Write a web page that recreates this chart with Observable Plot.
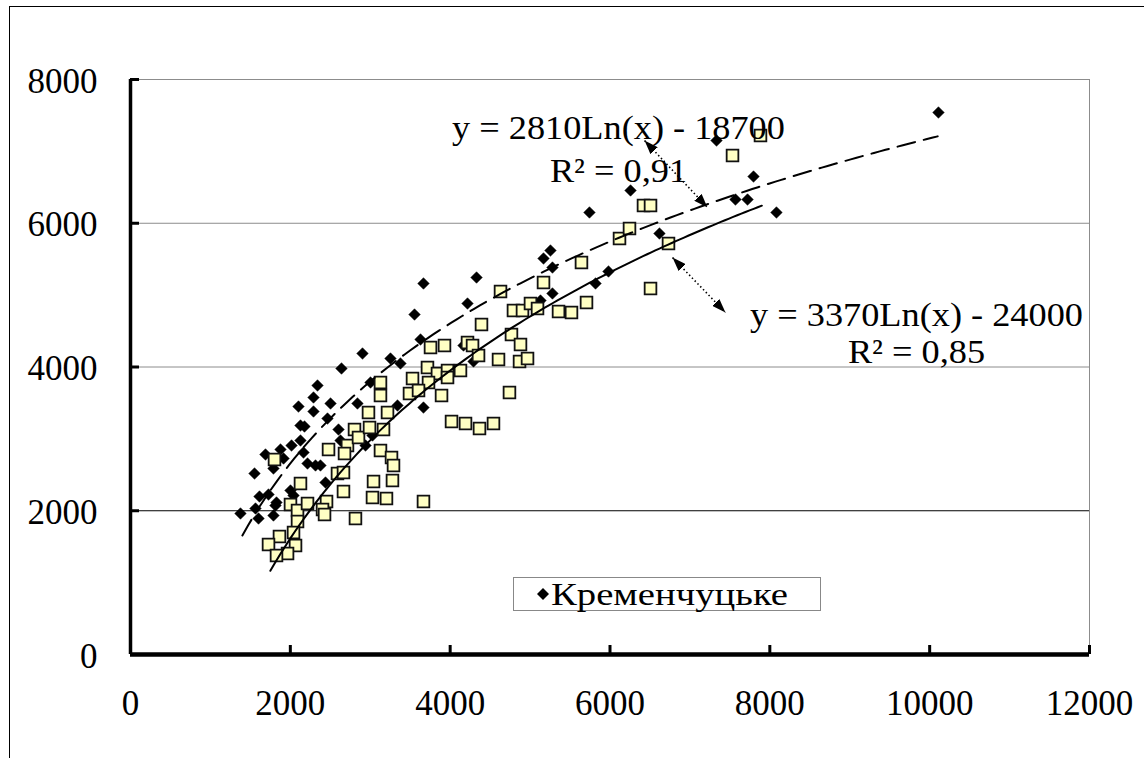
<!DOCTYPE html>
<html><head><meta charset="utf-8">
<script src="https://cdn.jsdelivr.net/npm/d3@7"></script>
<script src="https://cdn.jsdelivr.net/npm/@observablehq/plot@0.6"></script>
<style>
body{margin:0;background:#fff;}
#wrap{position:relative;width:1144px;height:758px;overflow:hidden;background:#fff;}
#frame{position:absolute;left:9px;top:6px;width:1300px;height:900px;border-left:1.5px solid #000;border-top:1.5px solid #000;pointer-events:none;}
#legend{position:absolute;left:513px;top:577px;width:306px;height:32px;border:1px solid #888;background:#fff;
  font-family:"Liberation Serif","DejaVu Serif",serif;font-size:32px;line-height:32px;color:#000;box-sizing:content-box;}
#legend svg{position:absolute;left:22px;top:9px;}
#legend span{position:absolute;left:37px;top:0px;white-space:nowrap;display:inline-block;transform-origin:0 50%;transform:scaleX(1.21);}
</style></head>
<body>
<div id="wrap"><div id="chart"></div><div id="frame"></div>
<div id="legend"><svg width="14" height="14"><path d="M7,1L13,7L7,13L1,7Z" fill="#000"/></svg><span>Кременчуцьке</span></div>
</div>
<script>
// ---- data ----
const seriesName = "Кременчуцьке";
const diamondX = [1376,1564,1602,1789,1614,1727,1814,1827,1552,1689,1877,2015,2127,2165,1789,1915,2215,2315,2377,2002,2040,2440,2127,2177,2628,2603,2941,3028,2290,2340,2465,2503,2102,2290,2640,2903,3253,3378,2840,3341,3003,3666,3629,3554,3666,4217,4330,4167,4292,5255,5168,5280,5130,5280,5819,5981,5743,6257,6619,7333,7796,7570,7721,8083,10110];
const diamondY = [1962,2031,1892,1934,2198,2226,2073,2115,2518,2783,2852,2908,2977,2810,2588,2727,2657,2630,2630,2282,2212,2393,3186,3172,2977,3130,2908,3047,3576,3743,3283,3492,3450,3381,3979,4188,4118,4049,3492,3464,3784,3436,4383,4730,5162,4883,5245,4299,4077,5621,5510,5384,4925,5023,5162,5329,6150,6456,5857,7151,6650,6330,6330,6150,7541];
const squareX = [1802,2127,2002,2090,2215,2453,2403,2428,2815,2090,2040,1864,1727,2065,1965,1827,2665,2590,2665,2478,2715,2678,2803,2853,2991,3166,3128,3266,3291,3041,3278,3028,3203,3666,2978,3216,3128,3128,3529,3491,3716,3841,3967,3967,4129,3892,3729,3604,4605,4868,4968,4742,4017,4192,4367,4542,3754,3929,4217,4280,4355,6119,5643,5168,4630,4392,4792,4905,5005,5093,5356,5518,5706,4767,4880,7883,7533,6419,6507,6244,6732,6507];
const squareY = [2713,2379,2087,2003,2101,2129,2017,1948,1892,1850,1697,1642,1530,1517,1405,1377,2268,2518,2532,2852,2908,2797,3130,3019,3158,3130,2838,2741,2630,2407,2421,2184,2170,2129,3367,3367,3784,3603,3840,3631,3993,3910,3951,3854,3951,3603,3784,3673,4104,4077,4118,3645,3242,3214,3144,3214,4271,4299,4341,4299,4160,5788,5454,5176,5051,4591,4786,4786,4883,4814,4772,4758,4897,4452,4313,7221,6943,6247,6247,5927,5718,5092];
// trendlines (as printed on the chart): y = a*ln(x) + b
const trendA = [2810, 3370];
const trendB = [-18700, -24000];
const trendFrom = [1400, 1750];
const trendTo = [10100, 7900];
const eqLines = ["y = 2810Ln(x) - 18700", "R² = 0,91", "y = 3370Ln(x) - 24000", "R² = 0,85"];
const eqX = [6106, 6106, 9835, 9835];
const eqY = [7318, 6720, 4717, 4202];
// dotted double arrows
const arrowX1 = [6432, 6782], arrowY1 = [7151, 5523];
const arrowX2 = [7220, 7445], arrowY2 = [6219, 4758];
const xTicks = [0, 2000, 4000, 6000, 8000, 10000, 12000];
const yTicks = [0, 2000, 4000, 6000, 8000];
const gridGray = [4000, 6000, 8000];
const gridDark = [2000];

// ---- build tables ----
const diamonds = diamondX.map((x, i) => ({x, y: diamondY[i]}));
const squares = squareX.map((x, i) => ({x, y: squareY[i]}));
function trendPts(k) {
  const pts = [];
  const n = 120;
  for (let i = 0; i <= n; i++) {
    const x = trendFrom[k] + (trendTo[k] - trendFrom[k]) * i / n;
    pts.push({x, y: trendA[k] * Math.log(x) + trendB[k]});
  }
  return pts;
}
const eqs = eqLines.map((t, i) => ({t, x: eqX[i], y: eqY[i]}));
const arrows = arrowX1.map((x1, i) => ({x1, y1: arrowY1[i], x2: arrowX2[i], y2: arrowY2[i]}));

const W = 1144, H = 758, mL = 130, mR = 55, mT = 79, mB = 104;
const innerW = W - mL - mR, innerH = H - mT - mB;
const serif = "'Liberation Serif','DejaVu Serif',serif";

function triMarker(color, context) {
  const doc = (context && context.document) || document;
  const ns = "http://www.w3.org/2000/svg";
  const m = doc.createElementNS(ns, "marker");
  m.setAttribute("viewBox", "-7 -5 14 10");
  m.setAttribute("markerWidth", "14");
  m.setAttribute("markerHeight", "10");
  m.setAttribute("markerUnits", "userSpaceOnUse");
  m.setAttribute("refX", "7");
  m.setAttribute("refY", "0");
  m.setAttribute("orient", "auto-start-reverse");
  const p = doc.createElementNS(ns, "path");
  p.setAttribute("d", "M-7,-5L7,0L-7,5Z");
  p.setAttribute("fill", "#000");
  p.setAttribute("stroke", "none");
  m.appendChild(p);
  return m;
}

function build(markerOpt) {
  return Plot.plot({
    width: W, height: H,
    marginLeft: mL, marginRight: mR, marginTop: mT, marginBottom: mB,
    style: {fontFamily: serif, background: "transparent", color: "#000", overflow: "visible"},
    x: {domain: [0, 12000], axis: null},
    y: {domain: [0, 8000], axis: null},
    marks: [
      Plot.ruleY(gridGray, {stroke: "#8c8c8c", strokeWidth: 1}),
      Plot.ruleY(gridDark, {stroke: "#000", strokeWidth: 1.2}),
      Plot.ruleX([12000], {stroke: "#8c8c8c", strokeWidth: 1}),
      Plot.dot(diamonds, {x: "x", y: "y", symbol: "diamond2", r: 5.2, fill: "#000", stroke: "#000", strokeWidth: 0.5}),
      Plot.dot(squares, {x: "x", y: "y", symbol: "square", r: 6.6, fill: "#ffffc4", stroke: "#111", strokeWidth: 1.8}),
      Plot.line(trendPts(0), {x: "x", y: "y", stroke: "#000", strokeWidth: 2, strokeDasharray: "18,9"}),
      Plot.line(trendPts(1), {x: "x", y: "y", stroke: "#000", strokeWidth: 2}),
      Plot.link(arrows, {x1: "x1", y1: "y1", x2: "x2", y2: "y2", stroke: "#000", strokeWidth: 1.6, strokeDasharray: "1.5,2.5",
        markerStart: markerOpt, markerEnd: markerOpt}),
      Plot.text(eqs, {x: "x", y: "y", text: "t", fontSize: 33, textAnchor: "middle", lineAnchor: "middle", fill: "#000", className: "eq"}),
      Plot.ruleX([0], {stroke: "#000", strokeWidth: 3.5}),
      Plot.ruleY([0], {stroke: "#000", strokeWidth: 4.5}),
      Plot.tickY(yTicks, {y: d => d, stroke: "#000", strokeWidth: 3, insetRight: innerW - 9}),
      Plot.tickX(xTicks, {x: d => d, stroke: "#000", strokeWidth: 3, insetTop: innerH - 9}),
      Plot.axisY({ticks: yTicks, tickSize: 0, tickPadding: 33, fontSize: 35, dy: 2, tickFormat: d => String(d), label: null}),
      Plot.axisX({ticks: xTicks, tickSize: 0, tickPadding: 36, fontSize: 35, tickFormat: d => String(d), label: null})
    ]
  });
}
let chart;
try { chart = build(triMarker); } catch (e) { chart = build("arrow"); }
// slight horizontal stretch of the equation labels, as in the reference
d3.select(chart).selectAll("g.eq text").each(function () {
  const t = this.getAttribute("transform") || "";
  this.setAttribute("transform", t + " scale(1.1,1)");
});
document.getElementById("chart").appendChild(chart);
</script>
</body></html>
